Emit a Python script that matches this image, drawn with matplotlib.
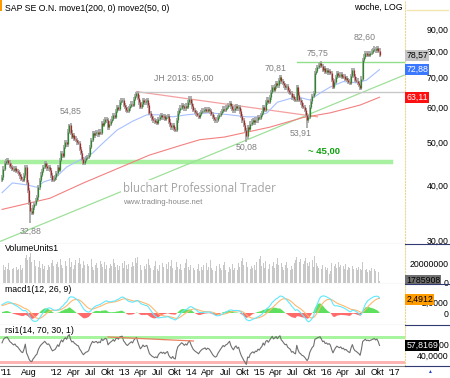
import matplotlib.pyplot as plt
import numpy as np
import pandas as pd
from matplotlib.lines import Line2D
from matplotlib.patches import Rectangle
from matplotlib.ticker import NullLocator, NullFormatter

plt.rcParams['font.family'] = ['Liberation Sans', 'DejaVu Sans']

# weekly closes SAP SE, from 2011-03-11
closes = [
    41.6, 43.5, 44.8, 45.2, 45.5, 44.9, 44.2, 43.9, 43.5, 43.2, 43.6, 43.0, 42.8,
    42.3, 41.8, 41.2, 41.0, 42.0, 43.9, 40.5, 38.9, 36.5, 35.0, 34.6, 35.6, 36.2,
    37.0, 37.5, 39.5, 41.0, 42.2, 43.0, 43.9, 44.8, 44.2, 43.6, 43.9, 43.2, 42.0,
    41.0, 41.3, 41.6, 42.5, 43.8, 43.2, 45.5, 47.2, 46.5, 48.7, 50.0, 49.4, 52.8,
    54.6, 52.5, 51.3, 51.8, 50.9, 50.5, 49.9, 49.7, 48.2, 47.2, 45.8, 44.8, 45.5,
    46.0, 46.2, 46.7, 48.7, 50.5, 52.3, 51.8, 52.3, 52.6, 52.0, 52.8, 52.5, 55.2,
    54.6, 55.6, 56.4, 56.0, 54.0, 55.0, 55.8, 56.5, 57.6, 57.0, 58.8, 60.0, 59.4,
    61.5, 62.0, 62.2, 60.6, 60.0, 59.2, 58.8, 59.6, 60.3, 61.0, 60.6, 62.5, 63.5,
    64.5, 63.0, 61.5, 60.0, 60.8, 62.2, 61.5, 61.8, 62.2, 60.5, 58.2, 57.3, 56.5,
    56.0, 55.5, 55.8, 55.2, 56.4, 57.0, 57.4, 56.8, 57.2, 56.5, 57.0, 57.3, 55.6,
    54.6, 54.0, 54.6, 53.5, 53.2, 56.0, 58.2, 59.0, 59.8, 60.6, 60.2, 59.6, 60.4,
    60.0, 61.5, 62.7, 61.4, 60.2, 59.1, 58.5, 58.0, 57.6, 57.0, 57.8, 58.4, 58.9,
    59.1, 59.4, 58.8, 59.3, 59.1, 58.6, 57.8, 57.0, 56.4, 56.0, 56.2, 57.0, 57.6,
    58.2, 58.8, 59.5, 59.2, 59.8, 60.0, 60.6, 61.2, 60.2, 59.5, 59.0, 59.8, 60.3,
    59.6, 60.0, 58.6, 57.2, 56.0, 54.6, 53.2, 51.5, 54.0, 53.6, 55.0, 55.6, 56.0,
    55.4, 56.2, 56.0, 57.0, 56.6, 57.5, 58.2, 60.0, 59.2, 61.5, 62.3, 61.6, 63.1,
    64.8, 66.6, 65.6, 66.8, 68.0, 67.2, 69.0, 70.2, 68.6, 68.0, 67.2, 66.5, 66.8,
    65.5, 65.0, 64.5, 63.1, 63.4, 62.6, 62.2, 66.6, 64.0, 62.2, 61.5, 60.4, 60.0,
    59.1, 57.6, 56.0, 57.0, 60.0, 61.8, 63.5, 64.5, 71.6, 72.5, 73.9, 74.5, 75.4,
    74.2, 72.7, 73.4, 72.0, 72.6, 71.8, 72.4, 71.6, 69.0, 66.6, 68.5, 70.2, 71.6,
    71.0, 70.6, 71.2, 70.1, 70.5, 69.5, 69.8, 69.0, 68.4, 68.0, 70.5, 72.7, 70.5,
    69.2, 68.8, 68.0, 67.4, 66.2, 69.5, 76.6, 78.0, 79.4, 78.6, 79.2, 78.8, 79.4,
    80.0, 80.7, 81.2, 80.6, 81.5, 80.4, 78.57,
]

# weekly volume in millions of shares
volumes = [
    16, 19, 14, 17, 15, 21, 13, 18, 15, 16, 12, 17, 14,
    15, 19, 13, 16, 22, 26, 30, 24, 28, 32, 22, 19, 24,
    18, 21, 17, 23, 16, 20, 15, 18, 22, 14, 19, 17, 21,
    24, 18, 15, 20, 22, 17, 25, 19, 16, 21, 23, 18, 20,
    26, 17, 22, 15, 19, 24, 18, 21, 27, 20, 16, 23, 19,
    15, 20, 18, 22, 25, 17, 14, 19, 21, 16, 18, 23, 20,
    17, 22, 15, 19, 24, 16, 20, 18, 25, 21, 17, 19, 14,
    18, 13, 21, 16, 23, 19, 15, 20, 24, 17, 22, 18, 26,
    21, 28, 17, 19, 14, 22, 18, 15, 20, 25, 19, 16, 21,
    14, 18, 23, 15, 12, 19, 16, 21, 17, 13, 20, 15, 22,
    18, 24, 16, 19, 14, 22, 17, 15, 20, 13, 18, 16, 21,
    25, 17, 14, 19, 22, 16, 13, 18, 15, 20, 12, 17, 14,
    19, 15, 21, 13, 17, 24, 16, 14, 19, 12, 18, 15, 20,
    16, 13, 19, 22, 14, 18, 11, 17, 15, 20, 13, 16, 18,
    14, 21, 17, 23, 26, 19, 28, 22, 17, 20, 15, 18, 16,
    19, 14, 22, 17, 25, 29, 18, 21, 16, 23, 19, 15, 20,
    24, 18, 22, 16, 20, 27, 19, 15, 21, 17, 14, 19, 22,
    16, 20, 13, 18, 15, 21, 24, 28, 19, 22, 25, 27, 20,
    23, 26, 21, 18, 22, 19, 24, 17, 29, 21, 18, 16, 20,
    15, 19, 13, 17, 14, 16, 9, 12, 21, 24, 18, 20, 16,
    22, 17, 19, 14, 18, 15, 20, 13, 17, 16, 14, 18, 15,
    12, 16, 13, 17, 15, 14, 22, 18, 13, 15, 11, 14, 12,
    16, 13, 15, 12, 14, 11, 1.785908,
]

# moving averages (week index, value)
ma50_weeks = [0, 8, 19, 27, 32, 41, 50, 60, 70, 78, 89, 101, 112, 122, 132, 143,
              161, 176, 189, 197, 205, 213, 223, 230, 238, 246, 254, 264, 275, 282, 292]
ma50_values = [38.4, 40.4, 40.0, 39.5, 40.6, 41.4, 43.9, 45.5, 47.2, 49.7, 53.2, 55.7,
               57.6, 57.6, 57.0, 57.6, 58.2, 57.6, 57.0, 57.0, 58.2, 61.5, 62.7, 63.1,
               62.2, 64.5, 66.6, 68.5, 68.0, 69.0, 72.88]
ma200_weeks = [0, 37, 63, 89, 114, 138, 153, 172, 207, 233, 254, 277, 292]
ma200_values = [35.2, 37.3, 40.4, 43.5, 46.7, 49.1, 50.6, 51.3, 54.0, 56.8, 58.2, 60.6, 63.11]

# indicator state at the left edge of the chart
ema12_start, ema26_start, signal_start = 40.9, 39.3, 1.3
rsi_gain_start, rsi_loss_start = 0.50, 0.32

# marked extremes
extreme_weeks = [22, 52, 104, 189, 215, 236, 246, 288]
extreme_values = [32.88, 54.85, 65.00, 50.08, 70.81, 53.91, 75.75, 82.60]
extreme_high = [False, True, True, False, True, False, True, True]

# trend / support lines
uptrend_dates = ['2011-03-01', '2017-02-24']
uptrend_values = [29.8, 70.8]
downtrend_weeks = [104, 244]
downtrend_values = [65.0, 57.0]
support_level = 45.0
resist_2013 = 65.0
resist_2015 = 75.75

rsi_div_weeks = [82, 148]
rsi_div_values = [73.7, 66.4]

last_close = 78.57
last_ma50 = 72.88
last_ma200 = 63.11
last_volume = 1785908
last_macd = 2.4912
last_rsi = 57.8169

price_ticks = [30, 40, 50, 60, 70, 80, 90]
tick_dates = ['2011-04-01', '2011-08-01', '2012-01-01', '2012-04-01', '2012-07-01', '2012-10-01',
              '2013-01-01', '2013-04-01', '2013-07-01', '2013-10-01', '2014-01-01', '2014-04-01',
              '2014-07-01', '2014-10-01', '2015-01-01', '2015-04-01', '2015-07-01', '2015-10-01',
              '2016-01-01', '2016-04-01', '2016-07-01', '2016-10-01', '2017-01-01']
tick_labels = ["'11", 'Aug', "'12", 'Apr', 'Jul', 'Okt', "'13", 'Apr', 'Jul', 'Okt', "'14", 'Apr',
               'Jul', 'Okt', "'15", 'Apr', 'Jul', 'Okt', "'16", 'Apr', 'Jul', 'Okt', "'17"]

# ---- derived series
dates = pd.date_range('2011-03-11', periods=len(closes), freq='7D')
close = np.array(closes)
opens = np.concatenate([[41.0], close[:-1]])
highs = np.maximum(opens, close) * 1.012
lows = np.minimum(opens, close) * 0.988
for w, v, hi in zip(extreme_weeks, extreme_values, extreme_high):
    if hi:
        highs[w] = v
    else:
        lows[w] = v


def ema(values, span, start):
    k = 2 / (span + 1)
    out, e = [], start
    for v in values:
        e = e + k * (v - e)
        out.append(e)
    return np.array(out)


macd = ema(close, 12, ema12_start) - ema(close, 26, ema26_start)
signal = ema(macd, 9, signal_start)
hist = macd - signal

rsi = []
g, l = rsi_gain_start, rsi_loss_start
prev = opens[0]
for c in close:
    d = c - prev
    prev = c
    g = (g * 13 + max(d, 0)) / 14
    l = (l * 13 + max(-d, 0)) / 14
    rsi.append(100 - 100 / (1 + g / l))
rsi = np.array(rsi)


def de(v):
    return f'{v:.2f}'.replace('.', ',')


FS = 6.3
xlim = (pd.Timestamp('2011-02-28'), pd.Timestamp('2017-03-01'))

fig = plt.figure(figsize=(4.5, 3.78), dpi=100)
ax = fig.add_axes([0, 0.3545, 0.9, 0.6455])
axv = fig.add_axes([0, 0.2487, 0.9, 0.1058], sharex=ax)
axm = fig.add_axes([0, 0.1402, 0.9, 0.1085], sharex=ax)
axr = fig.add_axes([0, 0.0317, 0.9, 0.1085], sharex=ax)

for a in (ax, axv, axm, axr):
    for side in ('left', 'top'):
        a.spines[side].set_visible(False)
    a.spines['bottom'].set_color('#808080')
    a.spines['right'].set_color('#e8d890')
    a.spines['right'].set_linestyle(':')
    a.yaxis.tick_right()
    a.tick_params(axis='y', length=0, pad=31.5, labelsize=FS)
    a.tick_params(axis='x', length=0)

# ---- price panel
ax.set_yscale('log')
ax.set_ylim(29.4, 104.7)
ax.set_xlim(*xlim)

ax.axhline(support_level, xmax=0.966, color='#a6f0a0', lw=3.2, zorder=1)
ax.plot(pd.to_datetime(uptrend_dates), uptrend_values, color='#9ee09a', lw=0.9, zorder=1)
ax.plot(dates[downtrend_weeks], downtrend_values, color='#f4a0a0', lw=0.9, zorder=1)
ax.plot([dates[104], xlim[1]], [resist_2013, resist_2013], color='#c8c8c8', lw=1.0, zorder=1)
ax.plot([dates[228], xlim[1]], [resist_2015, resist_2015], color='#90e08a', lw=1.0, zorder=1)
ax.plot(dates[ma200_weeks], ma200_values, color='#f48080', lw=0.8, zorder=2)
ax.plot(dates[ma50_weeks], ma50_values, color='#a8c0ff', lw=0.8, zorder=2)

up = close >= opens
ax.vlines(dates, lows, highs, color='#a8a8a8', lw=1.3, zorder=3)
ax.vlines(dates, opens, close, colors=np.where(up, '#2a8a2a', '#a82828'), lw=0.9, zorder=4)

offsets = [(0, -3), (1, 6), (None, None), (0, -1), (-3, 2), (-5, -1), (-2, 3), (-7, 3)]
for w, v, hi, (dx, dy) in zip(extreme_weeks, extreme_values, extreme_high, offsets):
    if dx is None:
        continue
    ax.annotate(de(v), (dates[w], v), xytext=(dx, dy), textcoords='offset points',
                ha='center', va='bottom' if hi else 'top', fontsize=FS, color='#808080', zorder=6)
ax.annotate('JH 2013: ' + de(resist_2013), (dates[104], resist_2013), xytext=(34, 6),
            textcoords='offset points', ha='center', va='bottom', fontsize=FS, color='#808080')
ax.annotate('~ ' + de(support_level), (pd.Timestamp('2016-01-01'), support_level), xytext=(-2, 5),
            textcoords='offset points', ha='center', va='bottom', fontsize=FS + 0.5,
            color='#10a010', fontweight='bold')

ax.text(0.304, 0.226, 'bluchart Professional Trader', transform=ax.transAxes, fontsize=8.3,
        family='Open Sans', color='#a4a4a4', va='center', zorder=5,
        bbox=dict(facecolor='white', edgecolor='none', pad=1.5))
ax.text(0.304, 0.17, 'www.trading-house.net', transform=ax.transAxes, fontsize=5.6,
        color='#888888', va='center', zorder=5,
        bbox=dict(facecolor='white', edgecolor='none', pad=1))

ax.text(0.012, 0.966, 'SAP SE O.N. move1(200, 0) move2(50, 0)', transform=ax.transAxes,
        fontsize=FS, va='center')
ax.text(0.995, 0.971, 'woche, LOG', transform=ax.transAxes, fontsize=FS, va='center', ha='right')

ax.yaxis.set_minor_locator(NullLocator())
ax.yaxis.set_minor_formatter(NullFormatter())
ax.set_yticks(price_ticks)
ax.set_yticklabels([de(v) for v in price_ticks])


def tag(a, y, txt, bg, fg):
    a.text(1.003, y, txt, transform=a.get_yaxis_transform(), fontsize=FS, color=fg, va='center',
           ha='left', zorder=10, clip_on=False,
           bbox=dict(facecolor=bg, edgecolor='none', pad=0.6))


tag(ax, last_close, de(last_close), '#c4c4c4', 'black')
tag(ax, last_ma50, de(last_ma50), '#3a78ff', 'white')
tag(ax, last_ma200, de(last_ma200), '#ff1010', 'white')

# ---- volume panel
axv.bar(dates, np.array(volumes) * 1e6, width=4.5, color='#c8c8c8')
axv.set_ylim(-1.6e6, 41.6e6)
axv.set_yticks([0, 20000000])
axv.set_yticklabels(['0', '20000000'])
axv.text(0.012, 0.88, 'VolumeUnits1', transform=axv.transAxes, fontsize=FS, va='center')
tag(axv, 2.6e6, str(last_volume), '#707070', 'black')

# ---- macd panel
axm.plot(dates, signal, color='#ffb870', lw=0.8)
axm.plot(dates, macd, color='#60e8ff', lw=0.8)
axm.fill_between(dates, hist, 0, where=hist >= 0, interpolate=True, color='#5ee05e', lw=0)
axm.fill_between(dates, hist, 0, where=hist < 0, interpolate=True, color='#ff6a6a', lw=0)
axm.set_ylim(-2.18, 5.27)
axm.set_yticks([0, 2])
axm.set_yticklabels(['0', '2,0000'])
axm.text(0.012, 0.86, 'macd1(12, 26, 9)', transform=axm.transAxes, fontsize=FS, va='center')
tag(axm, last_macd, '2,4912', '#ff9c00', 'black')

# ---- rsi panel
axr.axhspan(70, 76, color='#a8f5a0', lw=0)
axr.axhspan(24, 30, color='#ffb4b4', lw=0)
axr.plot(dates, rsi, color='#707070', lw=0.8)
axr.plot(dates[rsi_div_weeks], rsi_div_values, color='#e88060', lw=0.9)
axr.set_ylim(20.9, 95.5)
axr.set_yticks([40, 60])
axr.set_yticklabels(['40,0000', '60,0000'])
axr.text(0.012, 0.86, 'rsi1(14, 70, 30, 1)', transform=axr.transAxes, fontsize=FS, va='center')
tag(axr, last_rsi, '57,8169', 'black', 'white')

axr.set_xticks(pd.to_datetime(tick_dates))
axr.set_xticklabels(tick_labels, fontsize=FS)
axr.tick_params(axis='x', pad=1.5)
for a in (ax, axv, axm):
    a.tick_params(axis='x', labelbottom=False)

# right-aligned value labels on the right side
for a in (ax, axv, axm, axr):
    for lbl in a.get_yticklabels():
        lbl.set_horizontalalignment('right')

# frame bits on the right side
for yb in (0.3545, 0.2487, 0.1402, 0.0317):
    fig.add_artist(Line2D([0.9, 1.0], [yb, yb], color='#303a70', lw=0.8))
fig.add_artist(Line2D([0.905, 0.995], [0.973, 0.973], color='#f4e4b0', lw=1.0))
fig.add_artist(Rectangle((0, 0.97), 0.004, 0.03, color='#ff9900', lw=0))
fig.text(0.955, 0.016, '▲', fontsize=3.5, color='#2040c0', ha='center', va='center')

fig.savefig('out.png', dpi=100)
